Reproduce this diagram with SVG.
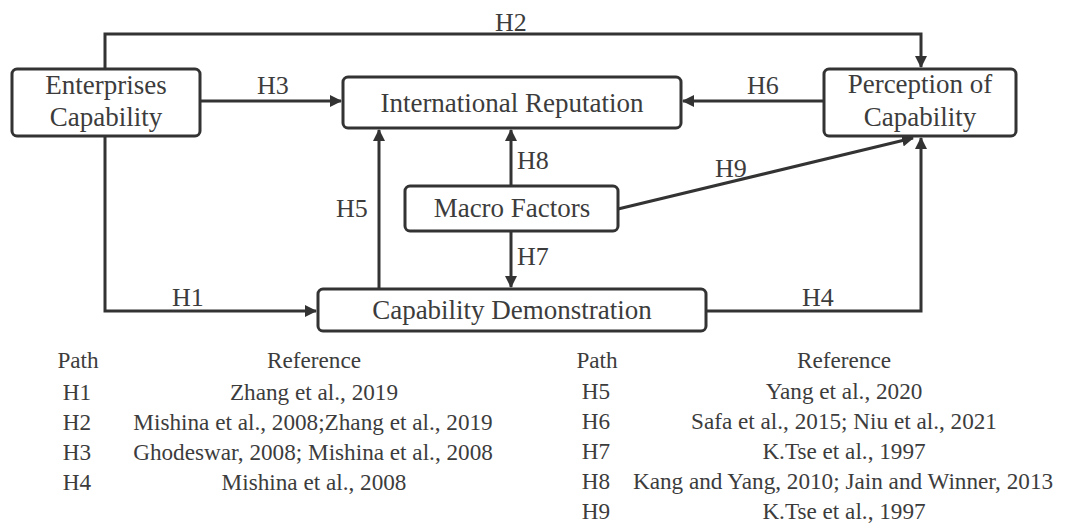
<svg xmlns="http://www.w3.org/2000/svg" width="1072" height="524" viewBox="0 0 1072 524" font-family="Liberation Serif, Times New Roman, serif">
<style>
.box{fill:#fff;stroke:#333;stroke-width:3}
.ln{fill:none;stroke:#333;stroke-width:3}
.t{font-family:"Liberation Serif",serif;font-size:27px;fill:#3c3c3c;text-anchor:middle}
.lb{font-family:"Liberation Serif",serif;font-size:26px;fill:#3c3c3c}
.tb{font-family:"Liberation Serif",serif;font-size:23.2px;fill:#3c3c3c;text-anchor:middle}
</style>
<defs>
<marker id="ah" viewBox="0 0 12 12" refX="11" refY="6" markerWidth="12" markerHeight="12" markerUnits="userSpaceOnUse" orient="auto">
<path d="M0,0 L12,6 L0,12 Z" fill="#333"/>
</marker>
</defs>
<rect width="1072" height="524" fill="#fff"/>
<g id="connectors">
<path class="ln" d="M105,69 V34 H921 V67" marker-end="url(#ah)"/>
<path class="ln" d="M200,101 H341" marker-end="url(#ah)"/>
<path class="ln" d="M824,101 H683" marker-end="url(#ah)"/>
<path class="ln" d="M511,186 V130" marker-end="url(#ah)"/>
<path class="ln" d="M511,231 V287" marker-end="url(#ah)"/>
<path class="ln" d="M379,289 V130" marker-end="url(#ah)"/>
<path class="ln" d="M618,209 L913,138" marker-end="url(#ah)"/>
<path class="ln" d="M706,311 H921 V138" marker-end="url(#ah)"/>
<path class="ln" d="M105,136 V311 H316" marker-end="url(#ah)"/>
<text class="lb" x="495" y="31">H2</text>
<text class="lb" x="257" y="94">H3</text>
<text class="lb" x="747" y="94">H6</text>
<text class="lb" x="517" y="169">H8</text>
<text class="lb" x="336" y="217">H5</text>
<text class="lb" x="517" y="265">H7</text>
<text class="lb" x="715" y="177">H9</text>
<text class="lb" x="802" y="306">H4</text>
<text class="lb" x="172" y="306">H1</text>
</g>
<g id="enterprises">
<rect class="box" x="12" y="69" width="188" height="67" rx="5"/>
<text class="t" x="106" y="94">Enterprises</text>
<text class="t" x="106" y="126">Capability</text>
</g>
<g id="reputation">
<rect class="box" x="343" y="77" width="338" height="51" rx="5"/>
<text class="t" x="512" y="112">International Reputation</text>
</g>
<g id="perception">
<rect class="box" x="824" y="69" width="192" height="67" rx="5"/>
<text class="t" x="920" y="93">Perception of</text>
<text class="t" x="920" y="126">Capability</text>
</g>
<g id="macro">
<rect class="box" x="405" y="186" width="213" height="45" rx="5"/>
<text class="t" x="512" y="217">Macro Factors</text>
</g>
<g id="demonstration">
<rect class="box" x="318" y="289" width="388" height="42" rx="5"/>
<text class="t" x="512" y="319">Capability Demonstration</text>
</g>
<g id="table">
<text class="tb" x="78" y="368">Path</text>
<text class="tb" x="314" y="368">Reference</text>
<text class="tb" x="77" y="400">H1</text>
<text class="tb" x="314" y="400">Zhang et al., 2019</text>
<text class="tb" x="77" y="430">H2</text>
<text class="tb" x="313" y="430">Mishina et al., 2008;Zhang et al., 2019</text>
<text class="tb" x="77" y="460">H3</text>
<text class="tb" x="313" y="460">Ghodeswar, 2008; Mishina et al., 2008</text>
<text class="tb" x="77" y="490">H4</text>
<text class="tb" x="314" y="490">Mishina et al., 2008</text>
<text class="tb" x="597" y="368">Path</text>
<text class="tb" x="844" y="368">Reference</text>
<text class="tb" x="596" y="399">H5</text>
<text class="tb" x="844" y="399">Yang et al., 2020</text>
<text class="tb" x="596" y="429">H6</text>
<text class="tb" x="844" y="429">Safa et al., 2015; Niu et al., 2021</text>
<text class="tb" x="596" y="459">H7</text>
<text class="tb" x="844" y="459">K.Tse et al., 1997</text>
<text class="tb" x="596" y="489">H8</text>
<text class="tb" x="843" y="489">Kang and Yang, 2010; Jain and Winner, 2013</text>
<text class="tb" x="596" y="519">H9</text>
<text class="tb" x="844" y="519">K.Tse et al., 1997</text>
</g>
</svg>
